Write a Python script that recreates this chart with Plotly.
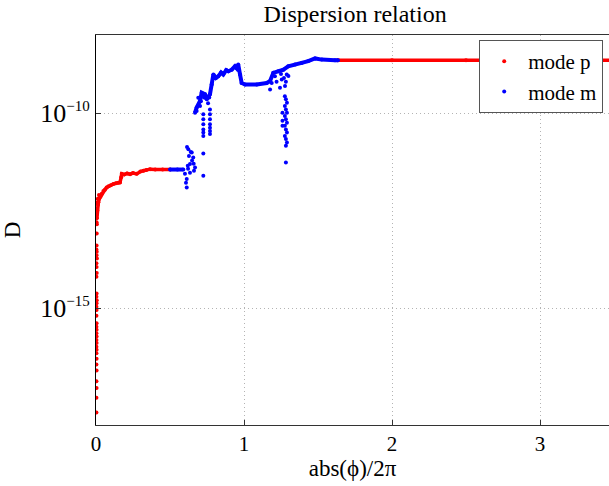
import plotly.graph_objects as go

# ---------------- data ----------------
# mode p : rising branch near the origin
p_curve_x = [0.006, 0.009, 0.013, 0.016, 0.022, 0.03, 0.039, 0.05, 0.06, 0.072,
             0.085, 0.1, 0.117, 0.135, 0.15, 0.162, 0.17, 0.174, 0.19, 0.21,
             0.23, 0.25, 0.275, 0.3, 0.32, 0.34, 0.365, 0.4, 0.45, 0.5]
p_curve_D = [2.0e-13, 3.16e-13, 4.47e-13, 5.13e-13, 6.31e-13, 7.08e-13, 8.51e-13, 1.0e-12, 1.07e-12, 1.23e-12,
             1.32e-12, 1.41e-12, 1.51e-12, 1.58e-12, 1.62e-12, 1.66e-12, 2.24e-12, 2.75e-12, 2.63e-12, 2.82e-12,
             2.69e-12, 2.88e-12, 2.75e-12, 3.16e-12, 3.31e-12, 3.47e-12, 3.63e-12, 3.55e-12, 3.55e-12, 3.55e-12]
# mode p : flat plateau
p_flat_x = [1.635, 2.0, 2.5, 3.0, 3.5, 4.0]
p_flat_D = [2.24e-9, 2.24e-9, 2.24e-9, 2.24e-9, 2.24e-9, 2.24e-9]
# mode p : scattered points along x = 0
p_dots_x = [0.02, 0.012, 0.008, 0.006, 0.005, 0.004, 0.006, 0.005, 0.004, 0.003,
            0.005, 0.004, 0.006, 0.003, 0.004, 0.005, 0.003, 0.004, 0.003, 0.005,
            0.004, 0.003, 0.004, 0.003, 0.004, 0.003, 0.004, 0.003, 0.004, 0.003,
            0.004, 0.003, 0.004, 0.003, 0.004, 0.003, 0.004, 0.003, 0.004, 0.003,
            0.003]
p_dots_D = [7.94e-13, 6.31e-13, 5.01e-13, 3.55e-13, 2.51e-13, 1.58e-13, 1.41e-13, 8.13e-14, 3.98e-14, 3.16e-14,
            2.75e-14, 2.24e-14, 1.86e-14, 1.41e-14, 1.12e-14, 7.94e-15, 6.31e-15, 2.34e-15, 1.95e-15, 1.58e-15,
            1.32e-15, 1.07e-15, 8.91e-16, 6.31e-16, 4.07e-16, 3.31e-16, 2.75e-16, 2.24e-16, 1.86e-16, 1.51e-16,
            1.26e-16, 1.02e-16, 8.51e-17, 6.92e-17, 5.01e-17, 3.55e-17, 2.51e-17, 1.32e-17, 8.91e-18, 5.01e-18,
            2.09e-18]

# mode m : low flat piece
m_low_x = [0.5, 0.55, 0.59]
m_low_D = [3.55e-12, 3.55e-12, 3.55e-12]
# mode m : upper branch
m_up_x = [0.669, 0.680, 0.703, 0.714, 0.736, 0.748, 0.770, 0.782, 0.793, 0.810,
          0.826, 0.845, 0.860, 0.880, 0.894, 0.917, 0.939, 0.950, 0.961, 0.973,
          0.984, 1.007, 1.086, 1.153, 1.176, 1.198, 1.232, 1.266, 1.299, 1.345,
          1.390, 1.434, 1.480, 1.525, 1.615, 1.635]
m_up_D = [1.02e-10, 1.38e-10, 2.04e-10, 3.31e-10, 3.02e-10, 2.24e-10, 3.02e-10, 5.37e-10, 9.77e-10, 7.94e-10,
          8.71e-10, 1.10e-9, 9.77e-10, 1.26e-9, 1.17e-9, 1.29e-9, 1.58e-9, 1.41e-9, 1.74e-9, 9.77e-10,
          5.89e-10, 5.37e-10, 5.37e-10, 5.89e-10, 6.61e-10, 1.07e-9, 1.17e-9, 1.29e-9, 1.58e-9, 1.74e-9,
          1.91e-9, 2.14e-9, 2.51e-9, 2.34e-9, 2.24e-9, 2.24e-9]
# mode m : scattered points (clusters and dips)
m_dots_x = [0.624, 0.647, 0.657, 0.635, 0.669, 0.601, 0.613, 0.613, 0.725, 0.725,
            0.615, 0.628, 0.649, 0.662, 0.622, 0.635, 0.608, 0.64, 0.66, 0.62,
            0.725, 0.725, 0.725, 0.725, 0.725, 0.725,
            0.770, 0.770, 0.770, 0.770, 0.770, 0.770, 0.770,
            0.691, 0.703, 0.680, 0.709, 0.73, 0.757, 0.765,
            1.176, 1.243, 1.277, 1.209, 1.255, 1.289, 1.187, 1.22, 1.27, 1.25, 1.283, 1.30,
            1.276, 1.283, 1.29, 1.276, 1.283, 1.29, 1.276, 1.283, 1.29, 1.276, 1.283, 1.29,
            1.276, 1.283, 1.29, 1.283, 1.283,
            1.26, 1.26, 1.26]
m_dots_D = [1.17e-11, 9.77e-12, 7.24e-12, 4.90e-12, 3.98e-12, 2.75e-12, 2.04e-12, 1.23e-12, 9.12e-12, 2.45e-12,
            1.35e-11, 7.94e-12, 6.03e-12, 3.31e-12, 3.72e-12, 2.95e-12, 1.62e-12, 1.0e-11, 5.0e-12, 4.47e-12,
            9.33e-11, 6.92e-11, 5.13e-11, 3.80e-11, 3.16e-11, 2.57e-11,
            1.23e-10, 9.33e-11, 6.92e-11, 5.13e-11, 4.17e-11, 3.47e-11, 2.88e-11,
            2.45e-10, 1.51e-10, 1.12e-10, 2.0e-10, 2.51e-10, 1.78e-10, 2.51e-10,
            3.98e-10, 4.47e-10, 4.90e-10, 8.71e-10, 7.24e-10, 9.77e-10, 5.89e-10, 6.31e-10, 7.94e-10, 1.0e-9, 6.31e-10, 8.91e-10,
            2.69e-10, 2.24e-10, 1.82e-10, 1.51e-10, 1.23e-10, 1.02e-10, 8.32e-11, 6.92e-11, 5.62e-11, 4.68e-11, 3.80e-11, 3.16e-11,
            2.57e-11, 2.14e-11, 1.74e-11, 1.45e-11, 5.37e-12,
            1.02e-10, 6.31e-11, 4.68e-11]

x_ticks = [0, 1, 2, 3]
y_ticks = [1e-15, 1e-10]
y_ticktext = ["10<sup><span style='font-size:15px'>\u221215</span></sup>",
              "10<sup><span style='font-size:15px'>\u221210</span></sup>"]

RED = "#ff0000"
BLUE = "#0000ff"
FONT = "Liberation Serif, Times New Roman, serif"
GRID = "#b4b4b4"

fig = go.Figure()

fig.add_trace(go.Scatter(
    x=p_curve_x + [None] + p_flat_x, y=p_curve_D + [None] + p_flat_D,
    mode="lines+markers", line=dict(color=RED, width=3.5),
    marker=dict(color=RED, size=4), showlegend=False, legendgroup="p",
    connectgaps=False, hoverinfo="skip"))
fig.add_trace(go.Scatter(
    x=p_dots_x, y=p_dots_D, mode="markers", name="mode p", legendgroup="p",
    marker=dict(color=RED, size=4)))
fig.add_trace(go.Scatter(
    x=m_low_x + [None] + m_up_x, y=m_low_D + [None] + m_up_D,
    mode="lines+markers", line=dict(color=BLUE, width=4),
    marker=dict(color=BLUE, size=4), showlegend=False, legendgroup="m",
    connectgaps=False, hoverinfo="skip"))
fig.add_trace(go.Scatter(
    x=m_dots_x, y=m_dots_D, mode="markers", name="mode m", legendgroup="m",
    marker=dict(color=BLUE, size=4)))

fig.update_layout(
    width=609, height=486,
    margin=dict(l=96, r=0, t=35, b=61),
    paper_bgcolor="white", plot_bgcolor="white",
    font=dict(family=FONT, size=21, color="black"),
    title=dict(text="Dispersion relation", x=0.583, xanchor="center",
               y=0.972, yanchor="middle", font=dict(family=FONT, size=24)),
    showlegend=True,
    legend=dict(x=0.747, y=0.987, xanchor="left", yanchor="top",
                bgcolor="white", bordercolor="#555", borderwidth=1,
                font=dict(family=FONT, size=21), itemsizing="trace",
                itemwidth=38, tracegroupgap=0),
)

fig.update_xaxes(
    range=[0, 3.466], tickvals=x_ticks, ticks="inside", ticklen=5, tickcolor="#333",
    showline=True, linecolor="#333", linewidth=1, mirror=True,
    showgrid=True, gridcolor=GRID, griddash="1px,3px", gridwidth=1,
    zeroline=False,
    title=dict(text="abs(\u03d5)/2\u03c0", standoff=2, font=dict(family=FONT, size=23)),
    tickfont=dict(family=FONT, size=21),
)
fig.update_yaxes(
    type="log", range=[-18, -8], tickvals=y_ticks, ticktext=y_ticktext,
    ticks="inside", ticklen=5, tickcolor="#333",
    showline=True, linecolor="black", linewidth=1, mirror=False,
    showgrid=True, gridcolor=GRID, griddash="1px,3px", gridwidth=1,
    zeroline=False,
    title=dict(text="D", standoff=14, font=dict(family=FONT, size=23)),
    tickfont=dict(family=FONT, size=26),
)

fig.write_html("out.html")
